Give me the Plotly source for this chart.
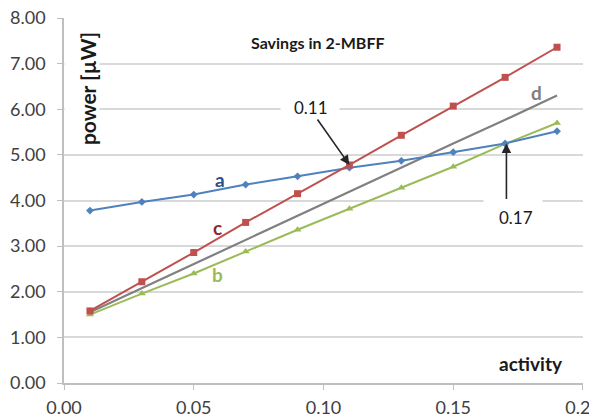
import plotly.graph_objects as go

activity = [0.01, 0.03, 0.05, 0.07, 0.09, 0.11, 0.13, 0.15, 0.17, 0.19]
series_a = [3.78, 3.97, 4.13, 4.35, 4.53, 4.72, 4.87, 5.06, 5.25, 5.52]
series_b = [1.50, 1.96, 2.40, 2.88, 3.36, 3.82, 4.28, 4.74, 5.24, 5.70]
series_c = [1.58, 2.22, 2.86, 3.52, 4.15, 4.78, 5.43, 6.07, 6.70, 7.36]
series_d = [1.55, 2.08, 2.61, 3.13, 3.66, 4.19, 4.72, 5.25, 5.77, 6.30]
x_ticks = [0.00, 0.05, 0.10, 0.15, 0.20]
y_ticks = [0, 1, 2, 3, 4, 5, 6, 7, 8]

FONT = "Lato"
BLUE = "#4F81BD"
RED = "#C0504D"
GREEN = "#9BBB59"
GRAY = "#808080"
DARK = "#1a1a1a"

fig = go.Figure()
fig.add_trace(go.Scatter(x=activity, y=series_d, mode="lines",
                         line=dict(color=GRAY, width=2.2), name="d"))
fig.add_trace(go.Scatter(x=activity, y=series_b, mode="lines+markers",
                         line=dict(color=GREEN, width=2),
                         marker=dict(symbol="triangle-up", size=7, color=GREEN), name="b"))
fig.add_trace(go.Scatter(x=activity, y=series_a, mode="lines+markers",
                         line=dict(color=BLUE, width=2),
                         marker=dict(symbol="diamond", size=6, color=BLUE), name="a"))
fig.add_trace(go.Scatter(x=activity, y=series_c, mode="lines+markers",
                         line=dict(color=RED, width=2),
                         marker=dict(symbol="square", size=7, color=RED), name="c"))

ann = []
# white boxes that break the gridlines behind the labels
ann.append(dict(x=0.0, y=6.45, xref="x", yref="y", xanchor="left", text=" ", showarrow=False,
                bgcolor="white", width=34, height=110, borderpad=0))
ann.append(dict(x=0.0948, y=6.0, xref="x", yref="y", text=" ", showarrow=False,
                bgcolor="white", width=58, height=14, borderpad=0))
ann.append(dict(x=0.173, y=4.0, xref="x", yref="y", text=" ", showarrow=False,
                bgcolor="white", width=58, height=12, borderpad=0))
# title
ann.append(dict(x=0.098, y=7.46, xref="x", yref="y", text="<b>Savings in 2-MBFF</b>",
                showarrow=False, font=dict(family=FONT, size=16, color=DARK)))
# y axis title inside plot
ann.append(dict(x=0.0090, y=6.45, xref="x", yref="y", text="<b>power [µW]</b>", textangle=-90,
                showarrow=False, font=dict(family=FONT, size=21, color=DARK)))
# x axis title
ann.append(dict(x=0.18, y=0.42, xref="x", yref="y", text="<b>activity</b>",
                showarrow=False, font=dict(family=FONT, size=19, color=DARK)))
# series labels
ann.append(dict(x=0.060, y=4.45, xref="x", yref="y", text="<b>a</b>", showarrow=False,
                font=dict(family=FONT, size=19, color="#2E4F86")))
ann.append(dict(x=0.059, y=3.40, xref="x", yref="y", text="<b>c</b>", showarrow=False,
                font=dict(family=FONT, size=19, color="#8B2A2A")))
ann.append(dict(x=0.059, y=2.37, xref="x", yref="y", text="<b>b</b>", showarrow=False,
                font=dict(family=FONT, size=19, color=GREEN)))
ann.append(dict(x=0.182, y=6.36, xref="x", yref="y", text="<b>d</b>", showarrow=False,
                font=dict(family=FONT, size=19, color=GRAY)))
# arrow labels
ann.append(dict(x=0.0952, y=6.03, xref="x", yref="y", text="0.11", showarrow=False,
                font=dict(family=FONT, size=17, color=DARK)))
ann.append(dict(x=0.174, y=3.62, xref="x", yref="y", text="0.17", showarrow=False,
                font=dict(family=FONT, size=17, color=DARK)))
# arrows
ann.append(dict(x=0.11, y=series_c[5], xref="x", yref="y", ax=-33, ay=-47, text="",
                showarrow=True, arrowhead=2, arrowsize=1.2, arrowwidth=1.6, arrowcolor="#262626"))
ann.append(dict(x=0.1705, y=5.25, xref="x", yref="y", ax=0, ay=57, text="",
                showarrow=True, arrowhead=2, arrowsize=1.2, arrowwidth=1.6, arrowcolor="#262626"))

# the page body has an 8px margin, so the figure is drawn 8px smaller and offset
fig.update_layout(
    width=589, height=411,
    margin=dict(l=56, r=14, t=10, b=36),
    paper_bgcolor="white", plot_bgcolor="white",
    showlegend=False,
    font=dict(family=FONT, size=18, color="#404040"),
    annotations=ann,
    xaxis=dict(range=[0, 0.20001], tickvals=x_ticks, tickformat=".2f", automargin=False,
               showgrid=False, zeroline=False, showline=True, linecolor="#bfbfbf", linewidth=1.5,
               ticks="outside", ticklen=5, tickcolor="#bfbfbf", tickfont=dict(size=18),
               ticklabelstandoff=3, ticklabeloverflow="allow"),
    yaxis=dict(range=[0, 8.001], tickvals=y_ticks, tickformat=".2f", automargin=False,
               showgrid=True, gridcolor="#d9d9d9", gridwidth=1.5, zeroline=False,
               showline=True, linecolor="#bfbfbf", linewidth=1.5,
               ticks="outside", ticklen=5, tickcolor="#bfbfbf", tickfont=dict(size=18),
               ticklabelstandoff=8, ticklabeloverflow="allow"),
)

fig.write_html("out.html")
